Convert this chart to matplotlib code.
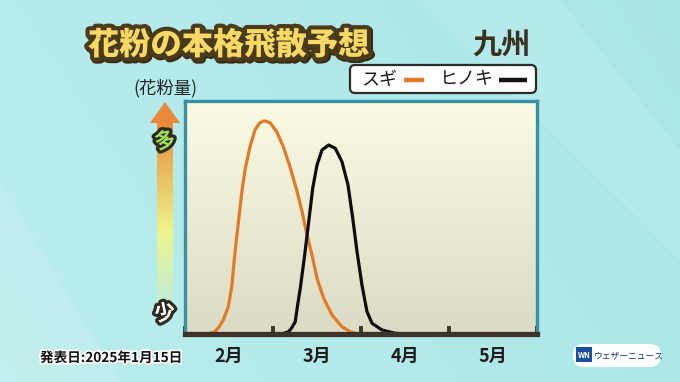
import numpy as np
import matplotlib.pyplot as plt
import matplotlib.patheffects as pe
from matplotlib.patches import FancyBboxPatch, Polygon

plt.rcParams['font.family'] = ['Noto Sans CJK JP', 'DejaVu Sans']

# data: x in months from Feb 1, y = relative pollen amount (0-100)
months = ['2月', '3月', '4月', '5月']
sugi_x = [0.284, 0.341, 0.386, 0.435, 0.492, 0.531, 0.560, 0.588, 0.614, 0.644, 0.682, 0.739,
          0.795, 0.852, 0.901, 0.966, 1.042, 1.117, 1.193, 1.269, 1.326, 1.383, 1.443, 1.500,
          1.576, 1.670, 1.784, 1.878, 1.943]
sugi_y = [0.2, 1.0, 3.0, 6.0, 11.7, 20.3, 31.8, 41.8, 50.3, 60.4, 70.4, 80.4,
          87.6, 90.7, 91.5, 90.7, 86.8, 80.4, 71.8, 61.8, 53.2, 43.2, 33.9, 23.9,
          15.3, 8.2, 3.1, 1.0, 0.2]
hinoki_x = [1.114, 1.178, 1.216, 1.253, 1.278, 1.310, 1.360, 1.406, 1.451, 1.500, 1.557, 1.633,
            1.708, 1.784, 1.852, 1.906, 1.955, 2.011, 2.068, 2.125, 2.239, 2.390, 2.557]
hinoki_y = [0.2, 1.0, 2.8, 5.3, 12.0, 19.6, 33.9, 48.2, 62.5, 72.5, 79.0, 81.1,
            79.7, 73.9, 64.0, 49.7, 35.3, 21.0, 9.6, 4.6, 1.7, 0.3, 0.0]

W, H = 680, 382
fig = plt.figure(figsize=(W / 100, H / 100), dpi=100)

# background in pixel coords
bg = fig.add_axes([0, 0, 1, 1])
bg.set_xlim(0, W)
bg.set_ylim(H, 0)
bg.axis('off')
gx, gy = np.meshgrid(np.linspace(0, 1, 200), np.linspace(0, 1, 120))
light = np.array([0.76, 0.94, 0.94])
base = np.array([0.66, 0.90, 0.90])
t = np.clip(0.55 * (1 - gx) + 0.2 * gy, 0, 1)[..., None]
img = base + (light - base) * t
bg.imshow(img, extent=[0, W, H, 0], aspect='auto', zorder=0)
bg.add_patch(Polygon([[420, 0], [560, 0], [680, 150], [680, 260]], closed=True,
                     facecolor='white', alpha=0.12, edgecolor='none', zorder=1))
bg.add_patch(Polygon([[0, 180], [120, 382], [0, 382]], closed=True,
                     facecolor='white', alpha=0.10, edgecolor='none', zorder=1))

# title
bg.text(88, 45, '花粉の本格飛散予想', fontsize=22.5, fontweight='heavy', color='#f8d966',
        va='center', ha='left', zorder=5,
        path_effects=[pe.Stroke(linewidth=6.5, foreground='#3a2e12', offset=(1.2, -1.2)),
                      pe.Stroke(linewidth=6, foreground='#4a3b1c'), pe.Normal()])
bg.text(531, 46, '九州', fontsize=21, fontweight='bold', color='#3a3122',
        va='center', ha='right', zorder=5)

# legend box
bg.add_patch(FancyBboxPatch((350, 65), 186, 28, boxstyle='round,pad=0,rounding_size=5',
                            facecolor='white', edgecolor='#2b2b2b', linewidth=1.6, zorder=4))
bg.text(361, 79.5, 'スギ', fontsize=13, color='#1a1a1a', va='center', ha='left', zorder=5)
bg.plot([404, 424], [80, 80], color='#e07b25', lw=3.2, solid_capstyle='butt', zorder=5)
bg.text(440, 79.5, 'ヒノキ', fontsize=13, color='#1a1a1a', va='center', ha='left', zorder=5)
bg.plot([499, 527], [80, 80], color='#111111', lw=3.2, solid_capstyle='butt', zorder=5)

# y label and arrow
bg.text(165, 88, '(花粉量)', fontsize=12.5, color='#222222', va='center', ha='center', zorder=5)
grad = np.linspace(0, 1, 200)
top_c = np.array([0.91, 0.54, 0.22])
mid_c = np.array([0.93, 0.96, 0.55])
rgba = np.zeros((200, 1, 4))
for i, v in enumerate(grad):
    if v < 0.55:
        c = top_c + (mid_c - top_c) * (v / 0.55)
        a = 1.0
    else:
        c = mid_c
        a = max(0.0, 1 - (v - 0.55) / 0.45)
    rgba[i, 0, :3] = c
    rgba[i, 0, 3] = a
bg.imshow(rgba, extent=[157, 173, 322, 121], aspect='auto', zorder=2)
bg.add_patch(Polygon([[150, 123], [165, 102], [180, 123]], closed=True,
                     facecolor='#e98a3a', edgecolor='none', zorder=2))
bg.text(165, 141, '多', fontsize=15, fontweight='bold', color='#9fe05a', rotation=12,
        va='center', ha='center', zorder=5,
        path_effects=[pe.withStroke(linewidth=4.5, foreground='#2e2a1e')])
bg.text(165, 313, '少', fontsize=15, fontweight='bold', color='white', rotation=12,
        va='center', ha='center', zorder=5,
        path_effects=[pe.withStroke(linewidth=4.5, foreground='#2e2a1e')])

# footer
bg.text(40, 358, '発表日:2025年1月15日', fontsize=9.8, fontweight='bold', color='#111111',
        va='center', ha='left', zorder=5,
        path_effects=[pe.withStroke(linewidth=2.5, foreground='white')])
bg.add_patch(FancyBboxPatch((573, 344), 88, 23, boxstyle='round,pad=0,rounding_size=11',
                            facecolor='white', edgecolor='none', zorder=4))
bg.add_patch(FancyBboxPatch((576, 347), 16, 15, boxstyle='square,pad=0',
                            facecolor='#1c4f9c', edgecolor='none', zorder=5))
bg.text(584, 355, 'WN', fontsize=5.5, fontweight='bold', style='italic', color='white',
        va='center', ha='center', zorder=6)
bg.text(594, 355.5, 'ウェザーニュース', fontsize=6.3, color='#1c2f5c', va='center', ha='left', zorder=6)

# chart panel
x0, x1, ytop, ybot = 185, 537, 101, 334
ax = fig.add_axes([x0 / W, (H - ybot) / H, (x1 - x0) / W, (ybot - ytop) / H])
ax.set_xlim(0, 4)
ax.set_ylim(0, 100)
pgrad = np.linspace(0, 1, 100)[:, None]
ptop = np.array([0.985, 0.985, 0.89])
pbot = np.array([0.86, 0.86, 0.77])
pimg = ptop + (pbot - ptop) * pgrad[..., None]
ax.imshow(np.repeat(pimg, 2, axis=1), extent=[0, 4, 0, 100], aspect='auto', zorder=0)

ax.plot(sugi_x, sugi_y, color='#e07b25', lw=2.3, zorder=3,
        solid_joinstyle='round', solid_capstyle='round')
ax.plot(hinoki_x, hinoki_y, color='#0d0d0d', lw=2.3, zorder=3,
        solid_joinstyle='round', solid_capstyle='round')

for s in ['left', 'top', 'right']:
    ax.spines[s].set_color('#3a8fa0')
    ax.spines[s].set_linewidth(2.4)
ax.spines['bottom'].set_color('#3d3329')
ax.spines['bottom'].set_linewidth(3.8)
ax.spines['bottom'].set_zorder(5)

ax.set_xticks([0, 1, 2, 3, 4])
ax.set_xticklabels([])
ax.tick_params(axis='x', which='major', direction='in', length=6, width=2.8, color='#3d3329')
ax.set_xticks([0.5, 1.5, 2.5, 3.5], minor=True)
ax.set_xticklabels(months, minor=True, fontsize=13, fontweight='bold', color='#1e1e1e')
ax.tick_params(axis='x', which='minor', length=0, pad=9)
ax.set_yticks([])

fig.savefig('out.png', dpi=100)
